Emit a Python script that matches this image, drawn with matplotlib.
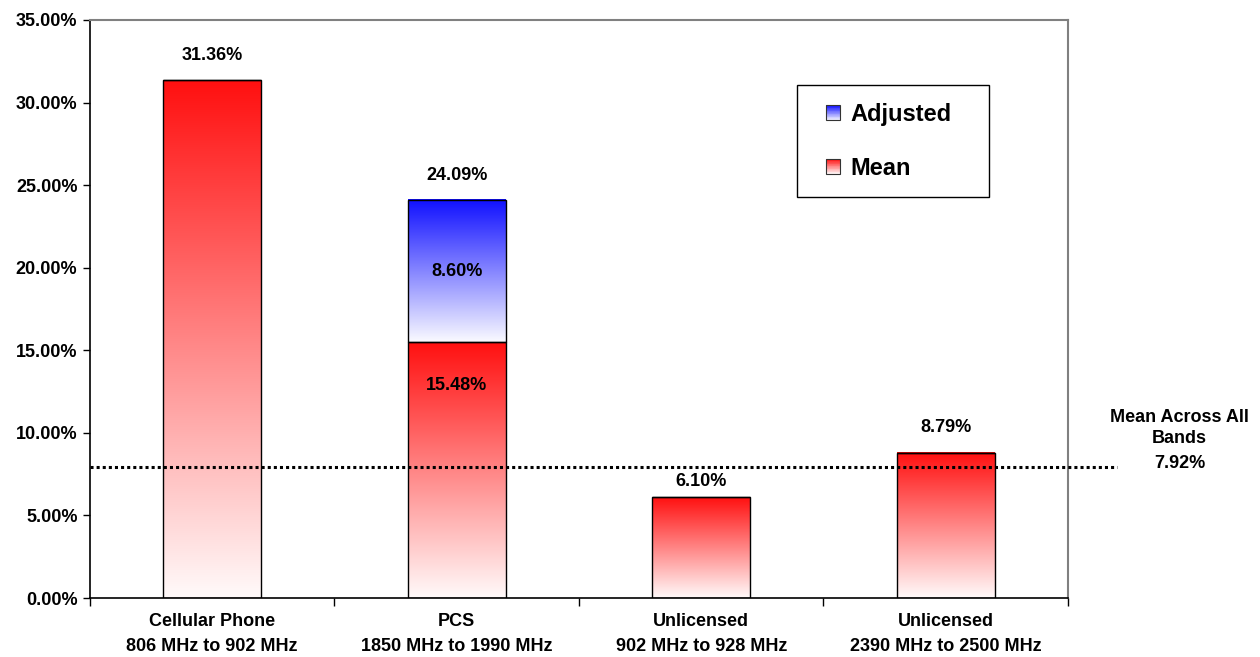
import numpy as np
import matplotlib
matplotlib.use("Agg")
import matplotlib.pyplot as plt
from matplotlib.colors import LinearSegmentedColormap
from matplotlib.legend_handler import HandlerBase
from matplotlib.patches import Rectangle
from matplotlib.transforms import blended_transform_factory

plt.rcParams['font.family'] = ['Liberation Sans', 'DejaVu Sans']
plt.rcParams['font.weight'] = 'bold'

categories = ["Cellular Phone\n806 MHz to 902 MHz",
              "PCS\n1850 MHz to 1990 MHz",
              "Unlicensed\n902 MHz to 928 MHz",
              "Unlicensed\n2390 MHz to 2500 MHz"]
mean_vals = [31.36, 15.48, 6.10, 8.79]
adjusted_vals = [0.0, 8.60, 0.0, 0.0]
total_labels = ["31.36%", "24.09%", "6.10%", "8.79%"]
overall_mean = 7.92
yticks = [0, 5, 10, 15, 20, 25, 30, 35]

FS = 13

red_map = LinearSegmentedColormap.from_list("redfade", ["#fffafa", "#ff1010"])
blue_map = LinearSegmentedColormap.from_list("bluefade", ["#fafaff", "#1010ff"])
grad = np.linspace(0, 1, 256).reshape(-1, 1)


class GradientHandler(HandlerBase):
    def __init__(self, cmap):
        super().__init__()
        self.cmap = cmap

    def create_artists(self, legend, orig_handle, xdescent, ydescent,
                       width, height, fontsize, trans):
        n = 20
        arts = []
        for i in range(n):
            arts.append(Rectangle((-xdescent, -ydescent + height * i / n), width,
                                  height / n, facecolor=self.cmap((i + 0.5) / n),
                                  edgecolor='none', transform=trans))
        arts.append(Rectangle((-xdescent, -ydescent), width, height, fill=False,
                              edgecolor='#333333', lw=0.8, transform=trans))
        return arts


def fill_gradient(ax, bars, cmap):
    for b in bars:
        if b.get_height() <= 0:
            continue
        x0, y0 = b.get_x(), b.get_y()
        ax.imshow(grad, cmap=cmap, origin='lower', aspect='auto', zorder=1,
                  extent=[x0, x0 + b.get_width(), y0, y0 + b.get_height()])


fig = plt.figure(figsize=(12.6, 6.57), dpi=100)
ax = fig.add_axes([0.0714, 0.0898, 0.7762, 0.8798])

x = np.arange(len(categories))
w = 0.4
mean_bars = ax.bar(x, mean_vals, w, facecolor='none', edgecolor='black', lw=1, zorder=2)
adj_bars = ax.bar(x, adjusted_vals, w, bottom=mean_vals, facecolor='none',
                  edgecolor='black', lw=1, zorder=2)
adj_bars = [b for b, v in zip(adj_bars, adjusted_vals) if v > 0]
fill_gradient(ax, mean_bars, red_map)
fill_gradient(ax, adj_bars, blue_map)

ax.set_xlim(-0.5, len(categories) - 0.5)
ax.set_ylim(0, 35)

# value labels
tops = [m + a for m, a in zip(mean_vals, adjusted_vals)]
for i, (t, lab) in enumerate(zip(tops, total_labels)):
    off = 11 if mean_vals[i] < overall_mean else 18
    ax.annotate(lab, (x[i], t), xytext=(0, off), textcoords='offset points',
                ha='center', va='center', fontsize=FS, fontweight='bold')
for i, a in enumerate(adjusted_vals):
    if a > 0:
        ax.text(x[i], mean_vals[i] + a / 2, f"{a:.2f}%", ha='center', va='center',
                fontsize=FS, fontweight='bold')
        ax.annotate(f"{mean_vals[i]:.2f}%", (x[i], mean_vals[i]), xytext=(0, -31),
                    textcoords='offset points', ha='center', va='center',
                    fontsize=FS, fontweight='bold')

# mean across all bands
tr = blended_transform_factory(ax.transAxes, ax.transData)
ax.plot([0, 1.05], [overall_mean, overall_mean], transform=tr, color='black',
        lw=2.2, linestyle=(0, (1, 1)), clip_on=False, zorder=3)
ax.annotate(f"{overall_mean:.2f}%", (1.114, overall_mean), xycoords=tr,
            xytext=(0, 3), textcoords='offset points', ha='center', va='center',
            fontsize=FS, fontweight='bold')
ax.annotate("Mean Across All\nBands", (1.114, overall_mean), xycoords=tr,
            xytext=(0, 28), textcoords='offset points', ha='center', va='center',
            fontsize=FS, fontweight='bold', linespacing=1.3)

# axes styling
ax.set_yticks(yticks)
ax.set_yticklabels([f"{v:.2f}%" for v in yticks], fontsize=FS, fontweight='bold')
ax.set_xticks(x)
ax.set_xticklabels(categories, fontsize=FS, fontweight='bold', linespacing=1.6)
ax.set_xticks(np.arange(len(categories) + 1) - 0.5, minor=True)
ax.tick_params(axis='x', which='major', length=0, pad=11)
ax.tick_params(axis='x', which='minor', length=6, width=1, direction='out')
ax.tick_params(axis='y', length=5, width=1, direction='out', pad=4)
for s in ['left', 'bottom']:
    ax.spines[s].set_color('black')
    ax.spines[s].set_linewidth(1.2)
for s in ['top', 'right']:
    ax.spines[s].set_color('#808080')
    ax.spines[s].set_linewidth(1.5)

# legend box drawn separately so its padding can differ per side
ax.add_patch(Rectangle((0.7229, 0.6938), 0.1963, 0.1937, transform=ax.transAxes,
                       facecolor='white', edgecolor='black', lw=1.0, zorder=4))
h_adj = Rectangle((0, 0), 1, 1)
h_mean = Rectangle((0, 1), 1, 1)
leg = ax.legend([h_adj, h_mean], ["Adjusted", "Mean"],
                handler_map={h_adj: GradientHandler(blue_map),
                             h_mean: GradientHandler(red_map)},
                loc='center left', bbox_to_anchor=(0.7526, 0.7898),
                prop={'size': 17, 'weight': 'bold'}, frameon=False,
                borderpad=0, labelspacing=1.3, handlelength=0.6,
                handleheight=0.6, handletextpad=0.45, borderaxespad=0)
leg.set_zorder(5)

fig.savefig("out.png", dpi=100)
